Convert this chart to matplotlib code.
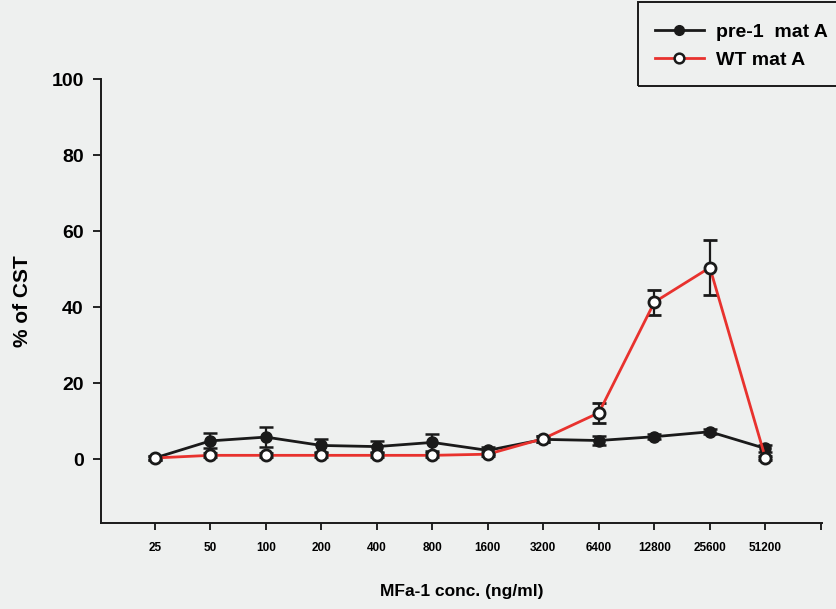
import matplotlib
matplotlib.use("Agg")
import matplotlib.pyplot as plt
from matplotlib.lines import Line2D
from matplotlib.patches import Rectangle
import numpy as np

plt.rcParams['font.family'] = ['Liberation Sans', 'DejaVu Sans']
plt.rcParams['font.weight'] = 'bold'

concentrations = ["25", "50", "100", "200", "400", "800", "1600",
                  "3200", "6400", "12800", "25600", "51200"]
pre1_mean = [0.3, 4.8, 5.8, 3.6, 3.3, 4.4, 2.3, 5.2, 4.9, 5.9, 7.2, 2.8]
pre1_err = [0.5, 2.0, 2.7, 1.6, 1.5, 2.2, 1.0, 0.8, 1.2, 0.6, 0.6, 0.8]
wt_mean = [0.3, 1.0, 1.0, 1.0, 1.0, 1.0, 1.3, 5.4, 12.2, 41.3, 50.4, 0.3]
wt_err = [0.4, 0.5, 0.5, 0.5, 0.5, 0.5, 0.5, 0.8, 2.6, 3.3, 7.3, 0.4]

bg = '#eef0ef'
dark = '#1a1a1a'
red = '#e8322e'
W, H = 837, 609
fig = plt.figure(figsize=(W/100, H/100), dpi=100, facecolor=bg)
ax = fig.add_axes([101/W, 1-523/H, (822-101)/W, (523-79)/H])
ax.set_facecolor(bg)

x = np.arange(len(concentrations))

ax.errorbar(x, pre1_mean, yerr=pre1_err, color=dark, lw=2,
            marker='o', ms=8, mfc=dark, mec=dark,
            ecolor=dark, elinewidth=1.6, capsize=4.8, capthick=1.8,
            zorder=3)
ax.errorbar(x, wt_mean, yerr=wt_err, color=red, lw=2,
            marker='o', ms=8, mfc='white', mec=dark, mew=2,
            ecolor=dark, elinewidth=1.6, capsize=4.8, capthick=1.8,
            zorder=4)

ax.set_xlim(-0.97, 12.02)
ax.set_ylim(-16.8, 100)
ax.set_yticks([0, 20, 40, 60, 80, 100])
ax.set_xticks(list(x) + [12])
ax.set_xticklabels(concentrations + [""], fontsize=8.5, fontweight='bold')
ax.tick_params(axis='y', labelsize=14, length=5.5, width=1.2, direction='out', pad=7)
ax.tick_params(axis='x', length=5, width=1.2, direction='out', pad=9)
for lab in ax.get_yticklabels():
    lab.set_fontweight('bold')

for side in ['top', 'right']:
    ax.spines[side].set_visible(False)
for side in ['left', 'bottom']:
    ax.spines[side].set_linewidth(1.4)
    ax.spines[side].set_color(dark)

ax.set_ylabel('% of CST', fontsize=15, fontweight='bold', labelpad=14)
ax.set_xlabel('MFa-1 conc. (ng/ml)', fontsize=12.5, fontweight='bold', labelpad=21)

# legend box running off the right edge
fig.add_artist(Rectangle((638/W, 1-86/H), (W+20-638)/W, 84/H,
                         transform=fig.transFigure, fill=False,
                         edgecolor=dark, lw=1.4, clip_on=False))
handles = [
    Line2D([], [], color=dark, lw=2, marker='o', ms=7, mfc=dark, mec=dark),
    Line2D([], [], color=red, lw=2, marker='o', ms=7, mfc='white', mec=dark, mew=1.8),
]
leg = fig.legend(handles, ['pre-1  mat A', 'WT mat A'], loc='upper left',
                 bbox_to_anchor=(655/W, 1-23/H), frameon=False,
                 fontsize=14, handlelength=2.5, labelspacing=0.55,
                 handletextpad=0.65, borderpad=0, borderaxespad=0)
for t in leg.get_texts():
    t.set_fontweight('bold')

fig.savefig('out.png', dpi=100, facecolor=bg)
